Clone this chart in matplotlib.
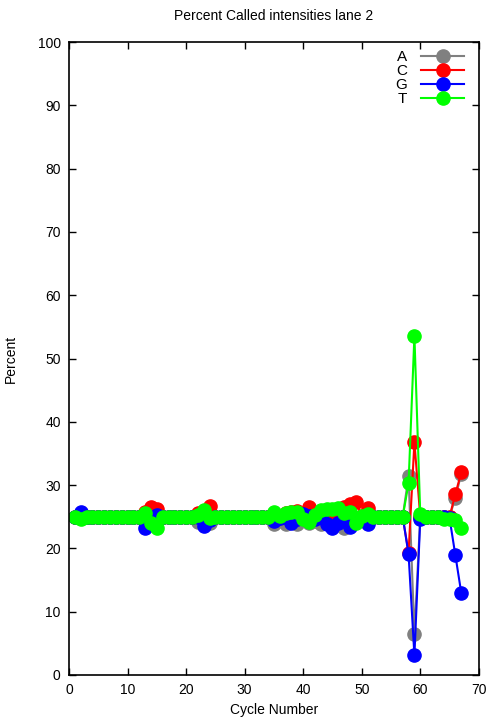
import matplotlib
matplotlib.use("Agg")
import matplotlib.pyplot as plt

plt.rcParams['font.family'] = ['Liberation Sans', 'DejaVu Sans']

cycles = list(range(1, 68))

A = [25.0, 24.8] + [25.0]*10 + [25.3, 24.7, 25.2] + [25.0]*6 + [24.2, 24.5, 24.0] + [25.0]*10 + \
    [23.8, 24.8, 23.8, 24.4, 23.8, 24.6, 24.0, 24.4, 23.8, 24.4, 23.6, 24.0, 23.2, 23.8, 24.2, 24.6, 24.4] + \
    [25.0]*6 + [31.4, 6.5, 25.0, 25.0, 25.0, 25.0, 25.0, 25.0, 28.0, 31.8]
C = [25.0, 24.8] + [25.0]*10 + [25.8, 26.6, 26.2] + [25.0]*6 + [25.6, 25.9, 26.7] + [25.0]*10 + \
    [25.0, 25.2, 25.6, 25.8, 25.9, 25.4, 26.6, 25.6, 25.2, 25.6, 25.8, 25.6, 26.6, 27.0, 27.4, 25.2, 26.4] + \
    [25.0]*6 + [19.3, 36.8, 25.0, 25.0, 25.0, 25.0, 25.0, 25.0, 28.6, 32.0]
G = [25.0, 25.8] + [25.0]*10 + [23.3, 24.7, 25.3] + [25.0]*6 + [24.9, 23.6, 24.5] + [25.0]*10 + \
    [24.4, 24.8, 25.0, 24.0, 24.6, 25.4, 25.2, 24.7, 25.0, 23.8, 23.3, 24.0, 24.6, 23.4, 24.4, 25.0, 23.8] + \
    [25.0]*6 + [19.1, 3.1, 24.6, 25.0, 25.0, 25.0, 25.0, 24.8, 18.9, 13.0]
T = [25.0, 24.6] + [25.0]*10 + [25.6, 24.0, 23.3] + [25.0]*6 + [25.3, 26.0, 24.8] + [25.0]*10 + \
    [25.8, 25.2, 25.6, 25.8, 25.7, 24.6, 24.2, 25.3, 26.0, 26.2, 26.3, 26.4, 25.6, 25.8, 24.0, 25.2, 25.4] + \
    [25.0]*6 + [30.3, 53.6, 25.4, 25.0, 25.0, 25.0, 24.6, 24.6, 24.5, 23.2]

series = [("A", A, "#808080"), ("C", C, "#ff0000"), ("G", G, "#0000ff"), ("T", T, "#00ff00")]

fig = plt.figure(figsize=(5.04, 7.2), dpi=100)
ax = fig.add_axes([0.137, 0.0625, 0.813, 0.879])

for name, vals, col in series:
    ax.plot(cycles, vals, '-o', color=col, lw=1.5, markersize=9.5, label=name)

ax.set_xlim(0, 70)
ax.set_ylim(0, 100)
ax.set_xticks(range(0, 71, 10))
ax.set_yticks(range(0, 101, 10))
ax.tick_params(direction='in', top=True, right=True, length=5, width=1, labelsize=10, pad=6)
for s in ax.spines.values():
    s.set_linewidth(1.2)
ax.set_xlabel("Cycle Number", fontsize=10, labelpad=4)
ax.set_ylabel("Percent", fontsize=10, labelpad=14)
ax.set_title("Percent Called intensities lane 2", fontsize=10, pad=16)

leg = ax.legend(loc='upper right', frameon=False, markerfirst=False, fontsize=11,
                handlelength=2.8, handletextpad=0.9, labelspacing=0.0,
                borderaxespad=0.3, bbox_to_anchor=(0.99, 1.004))
for t in leg.get_texts():
    t.set_ha('right')

fig.savefig("out.png", dpi=100)
